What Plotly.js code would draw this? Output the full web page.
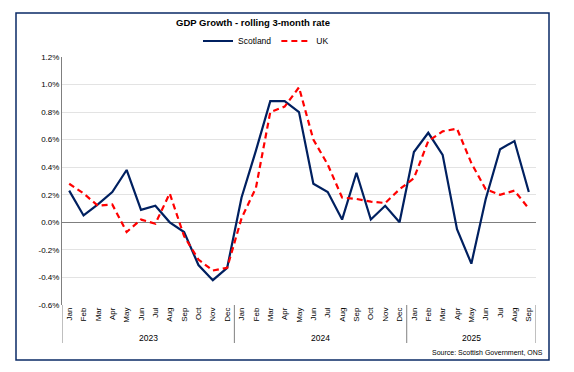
<!DOCTYPE html>
<html>
<head>
<meta charset="utf-8">
<script src="https://cdn.plot.ly/plotly-3.0.1.min.js"></script>
<style>html,body{margin:0;padding:0;background:#fff;}#chart{width:574px;height:372px;}</style>
</head>
<body>
<div id="chart"></div>
<script>
const monthLabels = ['Jan','Feb','Mar','Apr','May','Jun','Jul','Aug','Sep','Oct','Nov','Dec',
  'Jan','Feb','Mar','Apr','May','Jun','Jul','Aug','Sep','Oct','Nov','Dec',
  'Jan','Feb','Mar','Apr','May','Jun','Jul','Aug','Sep'];
const years = ['2023','2024','2025'];
const yearMonthCounts = [12, 12, 9];
const scotland = [0.23, 0.05, 0.13, 0.22, 0.38, 0.09, 0.12, 0.00, -0.07, -0.31, -0.42, -0.33,
  0.18, 0.52, 0.88, 0.88, 0.80, 0.28, 0.22, 0.02, 0.36, 0.02, 0.12, 0.00,
  0.51, 0.65, 0.49, -0.05, -0.30, 0.17, 0.53, 0.59, 0.22];
const uk = [0.28, 0.21, 0.12, 0.13, -0.07, 0.02, -0.01, 0.21, -0.10, -0.27, -0.35, -0.33,
  0.03, 0.25, 0.80, 0.84, 0.98, 0.60, 0.42, 0.18, 0.17, 0.15, 0.14, 0.24,
  0.32, 0.59, 0.66, 0.68, 0.43, 0.24, 0.20, 0.23, 0.10];
const yTicks = [-0.6, -0.4, -0.2, 0.0, 0.2, 0.4, 0.6, 0.8, 1.0, 1.2];

const xIdx = monthLabels.map((_, i) => i);
const FONT = 'Liberation Sans, Arial, sans-serif';

const traces = [
  {x: xIdx, y: scotland, name: 'Scotland', type: 'scatter', mode: 'lines',
   line: {color: '#002060', width: 2.2}},
  {x: xIdx, y: uk, name: 'UK', type: 'scatter', mode: 'lines',
   line: {color: '#FF0000', width: 2.2, dash: '6px,4px'}}
];

// group separators and year labels
const shapes = [];
const annotations = [];
let start = 0;
const sepBottom = (305 - 343) / 248;
shapes.push({type: 'line', xref: 'x', yref: 'paper', x0: -0.5, x1: -0.5, y0: sepBottom, y1: 0,
  line: {color: '#808080', width: 1}});
years.forEach((yr, k) => {
  const end = start + yearMonthCounts[k];
  shapes.push({type: 'line', xref: 'x', yref: 'paper', x0: end - 0.5, x1: end - 0.5, y0: sepBottom, y1: 0,
    line: {color: '#808080', width: 1}});
  annotations.push({xref: 'x', yref: 'paper', x: (start + end - 1) / 2, y: (305 - 338) / 248,
    text: yr, showarrow: false, font: {family: FONT, size: 8.5, color: '#000'},
    xanchor: 'center', yanchor: 'middle'});
  start = end;
});
// outer border
shapes.push({type: 'rect', xref: 'paper', yref: 'paper',
  x0: (16 - 62) / 474, x1: (549 - 62) / 474, y0: (305 - 360) / 248, y1: (305 - 13) / 248,
  line: {color: '#0A2A66', width: 1.5}, fillcolor: 'rgba(0,0,0,0)', layer: 'below'});

annotations.push({xref: 'paper', yref: 'paper', x: (545 - 62) / 474, y: (305 - 352) / 248,
  text: 'Source: Scottish Government, ONS', showarrow: false,
  font: {family: FONT, size: 7, color: '#000'}, xanchor: 'right', yanchor: 'middle'});

const layout = {
  width: 574, height: 372,
  margin: {l: 62, r: 38, t: 57, b: 67},
  paper_bgcolor: '#fff', plot_bgcolor: '#fff',
  font: {family: FONT, size: 8, color: '#000'},
  title: {text: '<b>GDP Growth - rolling 3-month rate</b>', font: {family: FONT, size: 9.5, color: '#000'},
    xref: 'paper', x: (253 - 62) / 474, xanchor: 'center', yref: 'container', y: 1 - 23 / 372, yanchor: 'middle'},
  showlegend: true,
  legend: {orientation: 'h', xref: 'paper', yref: 'paper', x: (198 - 62) / 474, y: (305 - 41) / 248,
    xanchor: 'left', yanchor: 'middle', font: {family: FONT, size: 8.5, color: '#000'},
    itemwidth: 30, tracegroupgap: 0, bgcolor: 'rgba(0,0,0,0)'},
  xaxis: {range: [-0.5, 32.5], tickmode: 'array', tickvals: xIdx, ticktext: monthLabels,
    tickangle: -90, ticks: '', showgrid: false, zeroline: false, showline: false,
    tickfont: {family: FONT, size: 8, color: '#000'}, fixedrange: true},
  yaxis: {range: [-0.6, 1.2], tickmode: 'array', tickvals: yTicks,
    ticktext: yTicks.map(v => v.toFixed(1) + '%'),
    showgrid: true, gridcolor: '#E3E3E3', gridwidth: 1,
    zeroline: true, zerolinecolor: '#7F7F7F', zerolinewidth: 1,
    showline: true, linecolor: '#7F7F7F', linewidth: 1, ticks: '',
    tickfont: {family: FONT, size: 8, color: '#000'}, fixedrange: true},
  shapes: shapes,
  annotations: annotations
};

Plotly.newPlot('chart', traces, layout, {staticPlot: true, displayModeBar: false});
</script>
</body>
</html>
